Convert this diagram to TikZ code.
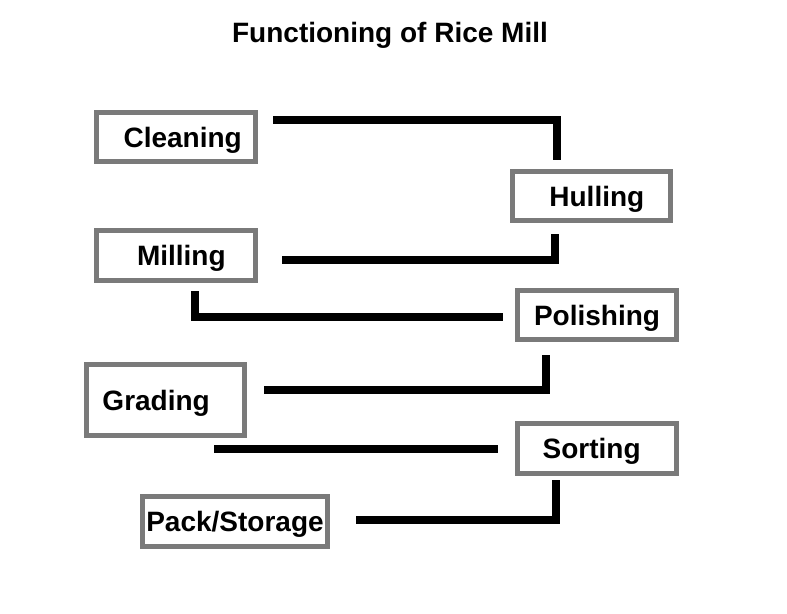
\documentclass[tikz,border=0pt]{standalone}
\usepackage{fontspec}
\setmainfont{Liberation Sans}
\usepackage{tikz}
\usetikzlibrary{positioning, calc}
\definecolor{boxgray}{HTML}{7A7A7A}
\definecolor{linkblack}{HTML}{000000}
\tikzset{
  stagebox/.style = {draw=boxgray, line width=3.75pt, fill=white,
                     font=\fontsize{21}{25}\selectfont\bfseries,
                     text height=15.5pt, text depth=0pt,
                     minimum width=119pt, minimum height=37pt, inner sep=2pt},
  link/.style     = {draw=linkblack, line width=6pt},
  ttl/.style      = {font=\fontsize{21}{25}\selectfont\bfseries, inner sep=0pt},
}

\begin{document}
\begin{tikzpicture}[x=0.75pt, y=-0.75pt]
  \useasboundingbox (0,0) rectangle (787,613);
  \node[ttl] (title) at (390,35) {Functioning of Rice Mill};
  % stages
  \node[stagebox] (cleaning)  at (176,137)   {\hspace*{10pt}Cleaning};
  \node[stagebox] (hulling)   at (591.5,196) {\hspace*{8pt}Hulling};
  \node[stagebox] (milling)   at (176,255.5) {\hspace*{8pt}Milling};
  \node[stagebox] (polishing) at (597,315)   {Polishing};
  \node[stagebox, minimum height=53.5pt] (grading) at (165.5,400) {Grading\hspace*{14pt}};
  \node[stagebox] (sorting)   at (597,448.5) {Sorting\hspace*{8pt}};
  \node[stagebox, minimum width=138.5pt, minimum height=37.75pt] (pack) at (235,521.5) {Pack/Storage};
  % free ends of the links
  \coordinate (cl-out) at (273,120.5);
  \coordinate (hu-in)  at (556.5,160);
  \coordinate (hu-out) at (555,234);
  \coordinate (mi-in)  at (282,260);
  \coordinate (mi-out) at (195,291);
  \coordinate (po-in)  at (503,317);
  \coordinate (po-out) at (546,355);
  \coordinate (gr-in)  at (264,390);
  \coordinate (gr-out) at (214,449);
  \coordinate (so-in)  at (498,449);
  \coordinate (so-out) at (556,480);
  \coordinate (pa-in)  at (356,520);
  % links
  \draw[link] (cl-out) -| (hu-in);
  \draw[link] (hu-out) |- (mi-in);
  \draw[link] (mi-out) |- (po-in);
  \draw[link] (po-out) |- (gr-in);
  \draw[link] (gr-out) -- (so-in);
  \draw[link] (so-out) |- (pa-in);
\end{tikzpicture}
\end{document}
